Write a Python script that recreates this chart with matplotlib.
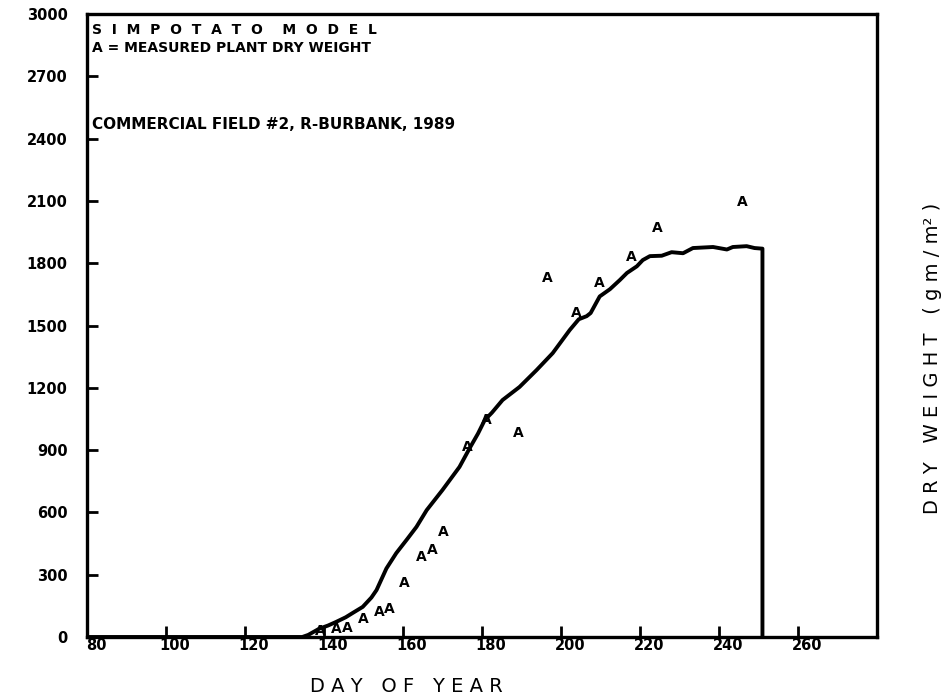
import matplotlib
matplotlib.use("Agg")
import matplotlib.pyplot as plt
import matplotlib.transforms as mtransforms

# simulated total plant dry weight (SIMPOTATO run)
model_day = [80, 134.5, 136, 138.8, 141, 143, 145.5, 147.2, 149.8, 152, 153.3,
             155.8, 158.3, 161, 163.4, 166, 170, 174.3, 176.9, 179, 180.7,
             182.5, 185.2, 189.5, 193.8, 197.9, 202.2, 204.5, 206.5, 207.5,
             209.8, 212.4, 214.9, 216.7, 219.2, 220.7, 222.5, 225.5, 228,
             230.9, 233.4, 238.5, 242, 243.5, 247, 249, 251, 251]
model_dw = [0, 0, 10, 40, 55, 72, 95, 115, 145, 190, 226,
            330, 404, 470, 530, 611, 708, 819, 910, 980, 1045,
            1080, 1141, 1204, 1285, 1367, 1478, 1530, 1545, 1560,
            1640, 1675, 1719, 1753, 1785, 1815, 1834, 1836, 1853,
            1848, 1873, 1878, 1866, 1878, 1882, 1873, 1870, 0]

# measured plant dry weight ("A" symbols)
meas_day = [139, 143, 146, 150, 154, 156.6, 160.4, 164.7, 167.5, 170.3,
            176.4, 181, 189.3, 196.6, 204, 209.8, 217.9, 224.5, 245.8]
meas_dw = [30, 40, 45, 85, 120, 135, 260, 385, 420, 506,
           915, 1045, 982, 1728, 1560, 1704, 1830, 1969, 2094]

xticks = list(range(80, 261, 20))
yticks = list(range(0, 3001, 300))

fig = plt.figure(figsize=(9.48, 7), dpi=100)
ax = fig.add_axes([87/948, 63/700, 790/948, 623/700])

ax.plot(model_day, model_dw, color="black", lw=2.8, solid_joinstyle="round")
for d, w in zip(meas_day, meas_dw):
    ax.text(d, w, "A", ha="center", va="center", fontsize=10,
            fontweight="bold")

ax.set_xlim(80, 280)
ax.set_ylim(0, 3000)
ax.set_xticks(xticks)
ax.set_yticks(yticks)
ax.set_xticklabels([str(t) for t in xticks], fontsize=10.5, fontweight="bold")
ax.set_yticklabels([str(t) for t in yticks], fontsize=10.5, fontweight="bold")
ax.tick_params(axis="x", direction="in", length=8, width=2, pad=1)
ax.tick_params(axis="y", direction="in", length=8, width=2, pad=14)

# x labels sit a little to the right of their ticks
shift = mtransforms.ScaledTranslation(0.09, 0, fig.dpi_scale_trans)
for lab in ax.get_xticklabels():
    lab.set_transform(lab.get_transform() + shift)

for sp in ax.spines.values():
    sp.set_linewidth(2.4)

ax.text(0.006, 0.974, "S  I  M  P  O  T  A  T  O    M  O  D  E  L",
        transform=ax.transAxes, fontsize=10, fontweight="bold", va="center")
ax.text(0.006, 0.945, "A = MEASURED PLANT DRY WEIGHT",
        transform=ax.transAxes, fontsize=10, fontweight="bold", va="center")
ax.text(0.006, 0.822, "COMMERCIAL FIELD #2, R-BURBANK, 1989",
        transform=ax.transAxes, fontsize=11, fontweight="bold", va="center")

fig.text(406/948, 14/700, "D A Y   O F   Y E A R", ha="center", va="center",
         fontsize=14)
fig.text(932/948, 342/700, "D R Y   W E I G H T   ( g m / m² )",
         ha="center", va="center", rotation=90, fontsize=14)

fig.savefig("out.png", dpi=100)
